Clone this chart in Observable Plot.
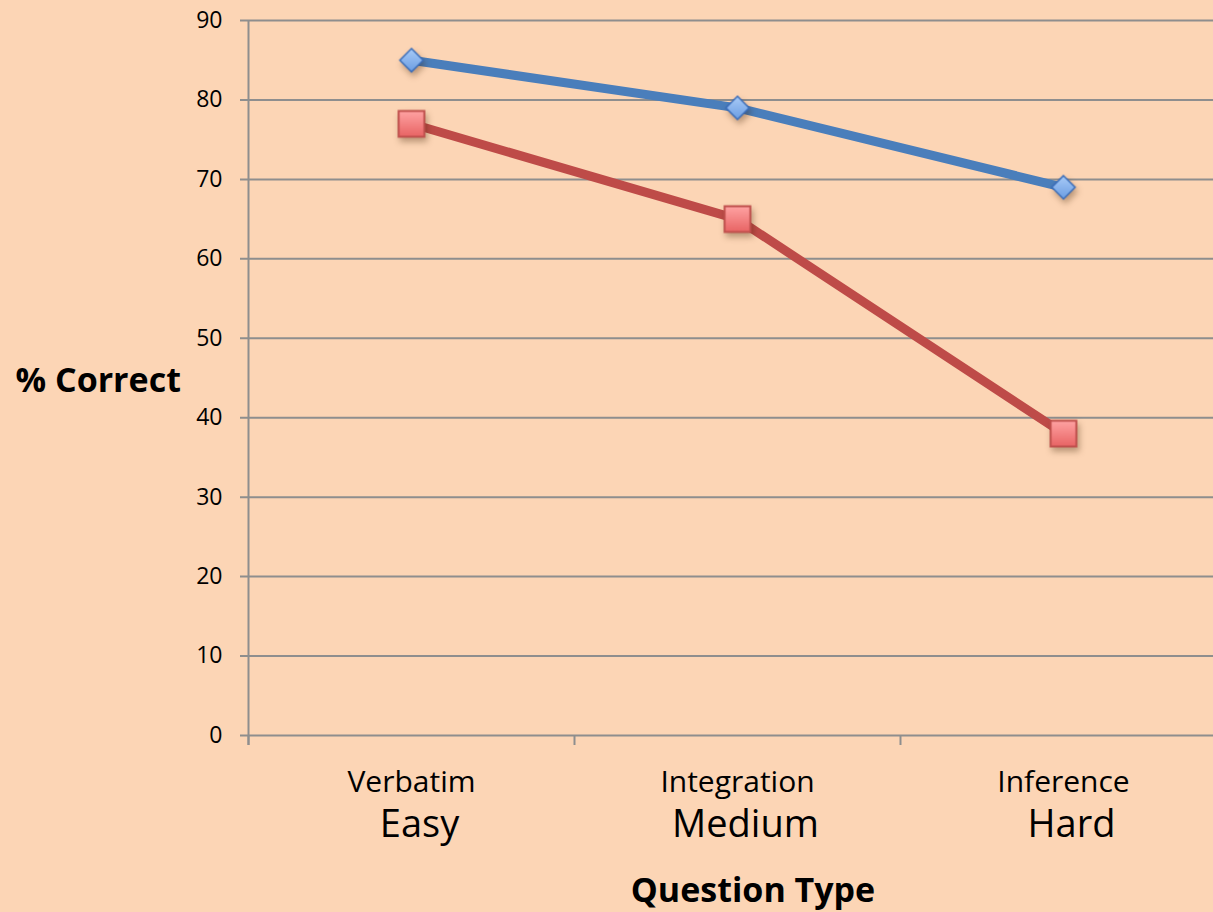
<!DOCTYPE html>
<html><head><meta charset="utf-8">
<script src="https://cdn.jsdelivr.net/npm/d3@7"></script>
<script src="https://cdn.jsdelivr.net/npm/@observablehq/plot@0.6"></script>
<style>
html,body{margin:0;padding:0;background:#FCD5B5;overflow:hidden;}
#chart svg{display:block;}
g[aria-label="dot"]{filter:drop-shadow(2px 4px 3px rgba(60,30,0,0.35));}
</style></head><body><div id="chart"></div>
<script>
const categories = ["Verbatim", "Integration", "Inference"];
const difficulty = ["Easy", "Medium", "Hard"];
const blueSeries = [85, 79, 69];
const redSeries = [77, 65, 38];
const yTicks = [0, 10, 20, 30, 40, 50, 60, 70, 80, 90];
const xBoundaries = [0, 1, 2, 3];

const rows = categories.map((c, i) => ({i, c, d: difficulty[i], a: blueSeries[i], b: redSeries[i]}));
const xPos = d => d.i + 0.5;
const grid = "#8E8E8E";

const chart = Plot.plot({
  width: 1213,
  height: 912,
  marginTop: 20,
  marginBottom: 177,
  marginLeft: 248,
  marginRight: 0,
  style: {background: "transparent", fontFamily: "'Open Sans', sans-serif", color: "#000"},
  x: {domain: [0, 3], range: [248, 1226], axis: null},
  y: {domain: [0, 90], range: [735, 20]},
  marks: [
    Plot.ruleY(yTicks, {stroke: grid, strokeWidth: 2, insetLeft: -8}),
    Plot.ruleX([0], {y1: 90, y2: 0, stroke: grid, strokeWidth: 2, insetBottom: -10}),
    Plot.ruleX(xBoundaries, {y1: 0, y2: 0, stroke: grid, strokeWidth: 2, insetBottom: -10}),
    Plot.axisY({ticks: yTicks, tickSize: 0, tickPadding: 26, fontSize: 23, label: null, fill: "#000"}),
    Plot.line(rows, {x: xPos, y: "a", stroke: "#4A7EBB", strokeWidth: 9}),
    Plot.line(rows, {x: xPos, y: "b", stroke: "#BE4B48", strokeWidth: 9}),
    Plot.dot(rows, {x: xPos, y: "a", symbol: "diamond2", r: 10.5, fill: "url(#gBlue)", stroke: "#3B6DB8", strokeWidth: 1.5}),
    Plot.dot(rows, {x: xPos, y: "b", symbol: "square", r: 14.5, fill: "url(#gRed)", stroke: "#C0504D", strokeWidth: 2}),
    Plot.text(rows, {x: xPos, frameAnchor: "bottom", lineAnchor: "middle", text: "c", fontSize: 30, dy: 47, fill: "#000"}),
    Plot.text(rows, {x: xPos, frameAnchor: "bottom", lineAnchor: "middle", text: "d", fontSize: 38, dy: 89, dx: 8, fill: "#000"}),
    Plot.text(["% Correct"], {frameAnchor: "left", lineAnchor: "middle", textAnchor: "start", dx: -233, dy: 3, fontSize: 34, fontWeight: "bold", fill: "#000"}),
    Plot.text(["Question Type"], {frameAnchor: "bottom", lineAnchor: "middle", dx: 22, dy: 156, fontSize: 34, fontWeight: "bold", fill: "#000"})
  ]
});

const svg = d3.select(chart);
const defs = svg.insert("defs", ":first-child");
const gb = defs.append("linearGradient").attr("id", "gBlue").attr("x1", 0).attr("y1", 0).attr("x2", 0).attr("y2", 1);
gb.append("stop").attr("offset", "0%").attr("stop-color", "#A9CBF7");
gb.append("stop").attr("offset", "100%").attr("stop-color", "#6B9DE2");
const gr = defs.append("linearGradient").attr("id", "gRed").attr("x1", 0).attr("y1", 0).attr("x2", 0).attr("y2", 1);
gr.append("stop").attr("offset", "0%").attr("stop-color", "#FFA3A3");
gr.append("stop").attr("offset", "100%").attr("stop-color", "#E86464");

document.getElementById("chart").appendChild(chart);
</script>
</body></html>
